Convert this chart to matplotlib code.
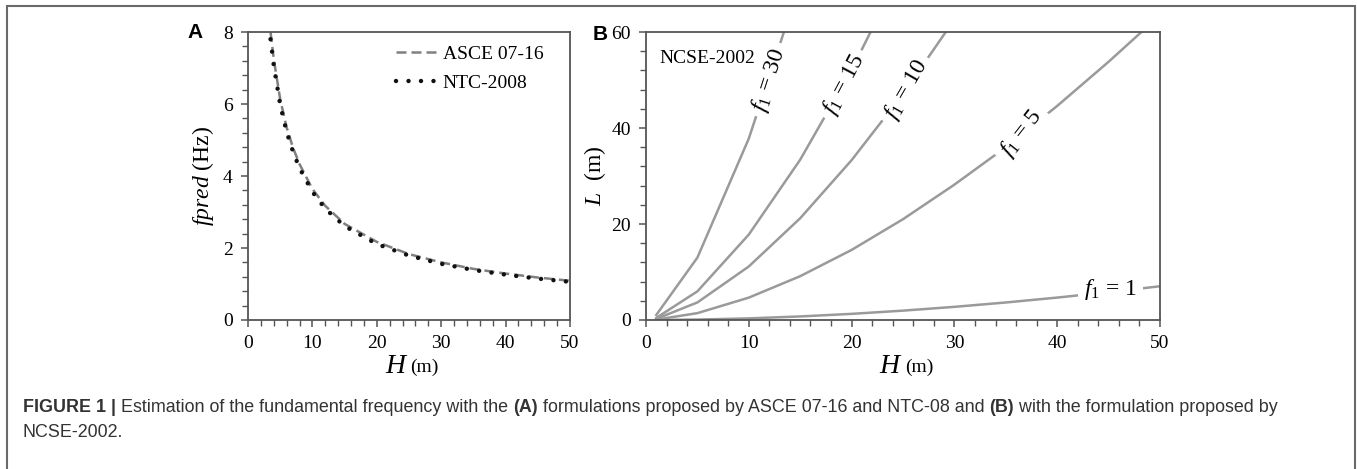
import numpy as np
import matplotlib
matplotlib.use("Agg")
import matplotlib.pyplot as plt
from matplotlib.ticker import MultipleLocator
from matplotlib.patches import Rectangle

plt.rcParams["font.family"] = ["Liberation Serif", "DejaVu Serif"]
plt.rcParams["mathtext.fontset"] = "custom"
plt.rcParams["mathtext.rm"] = "Liberation Serif"
plt.rcParams["mathtext.it"] = "Liberation Serif:italic"

# panel A: predicted frequency vs height
H_a = [3.5, 4, 5, 6, 7, 8, 10, 12, 15, 20, 25, 30, 35, 40, 45, 50]
f_asce = [8.0, 7.25, 6.13, 5.35, 4.78, 4.33, 3.64, 3.17, 2.67, 2.17, 1.83, 1.60, 1.42, 1.29, 1.18, 1.09]
f_ntc = [7.8, 7.07, 5.98, 5.22, 4.67, 4.22, 3.56, 3.09, 2.61, 2.11, 1.79, 1.56, 1.39, 1.26, 1.15, 1.06]

# panel B: NCSE-2002 iso-frequency curves, L vs H
H_b = [1, 5, 10, 15, 20, 25, 30, 35, 40, 45, 50]
L_f1 = [0.0, 0.09, 0.34, 0.74, 1.28, 1.95, 2.74, 3.65, 4.67, 5.80, 7.03]
L_f5 = [0.08, 1.43, 4.66, 9.13, 14.6, 21.0, 28.2, 36.0, 44.6, 53.8, 63.5]
L_f10 = [0.24, 3.66, 11.15, 21.2, 33.3, 47.1, 62.6]
L_f15 = [0.43, 5.97, 17.8, 33.4, 52.1, 73.5]
L_f30 = [1.05, 13.0, 37.8, 70.3]

curves = [L_f1, L_f5, L_f10, L_f15, L_f30]
labels = ["$f_1$ = 1", "$f_1$ = 5", "$f_1$ = 10", "$f_1$ = 15", "$f_1$ = 30"]
label_pos = [(45.2, 6.4), (36.5, 38.8), (25.3, 48.0), (19.3, 49.0), (12.0, 50.0)]
label_rot = [0, 52, 60, 62, 72]

W, Hpx = 1357, 469
fig = plt.figure(figsize=(W / 100, Hpx / 100), dpi=100)

axA = fig.add_axes([248 / W, 1 - 320 / Hpx, 322 / W, 288 / Hpx])
axB = fig.add_axes([646 / W, 1 - 320 / Hpx, 514 / W, 288 / Hpx])

axA.plot(H_a, f_asce, color="#808080", lw=1.8, ls=(0, (4, 2)), label="ASCE 07-16")
axA.plot(H_a, f_ntc, color="#111111", lw=3.2, ls=(0, (0.01, 2.8)),
         dash_capstyle="round", label="NTC-2008")
axA.set_xlim(0, 50)
axA.set_ylim(0, 8)
axA.xaxis.set_major_locator(MultipleLocator(10))
axA.xaxis.set_minor_locator(MultipleLocator(2))
axA.yaxis.set_major_locator(MultipleLocator(2))
axA.yaxis.set_minor_locator(MultipleLocator(0.4))
axA.legend(loc="upper right", bbox_to_anchor=(0.96, 1.0), frameon=False, fontsize=14,
           handlelength=2.3, handletextpad=0.1, borderaxespad=0.3, labelspacing=0.55)
axA.set_ylabel(r"$\mathit{fpred}$ (Hz)", fontsize=17, labelpad=5)

for L, lab, pos, rot in zip(curves, labels, label_pos, label_rot):
    axB.plot(H_b[:len(L)], L, color="#9a9a9a", lw=1.8, zorder=2)
    axB.text(pos[0], pos[1], lab, fontsize=17, rotation=rot, ha="center", va="center",
             rotation_mode="anchor", zorder=3,
             bbox=dict(boxstyle="square,pad=0.25", fc="white", ec="none"))
axB.set_xlim(0, 50)
axB.set_ylim(0, 60)
axB.xaxis.set_major_locator(MultipleLocator(10))
axB.xaxis.set_minor_locator(MultipleLocator(2))
axB.yaxis.set_major_locator(MultipleLocator(20))
axB.yaxis.set_minor_locator(MultipleLocator(4))
axB.text(1.3, 54.5, "NCSE-2002", fontsize=14, va="center", ha="left")
axB.set_ylabel(r"$L$  (m)", fontsize=17, labelpad=2)

for ax in (axA, axB):
    for sp in ax.spines.values():
        sp.set_color("#555555")
        sp.set_linewidth(1.3)
    ax.tick_params(which="major", direction="out", length=5, width=1.1,
                   color="#555555", labelsize=14, pad=6)
    ax.tick_params(which="minor", direction="out", length=4, width=1.0, color="#555555")
    ax.text(0.5, -0.16, "$H$", transform=ax.transAxes, fontsize=20,
            ha="right", va="center")
    ax.text(0.505, -0.165, "(m)", transform=ax.transAxes, fontsize=14,
            ha="left", va="center")

fig.text(195 / W, 1 - 33 / Hpx, "A", fontsize=15, fontweight="bold",
         family="Liberation Sans", ha="center", va="center")
fig.text(600 / W, 1 - 34 / Hpx, "B", fontsize=15, fontweight="bold",
         family="Liberation Sans", ha="center", va="center")

# frame round the figure
fig.add_artist(Rectangle((7 / W, -0.02), 1348 / W, 1.02 - 6 / Hpx, transform=fig.transFigure,
                         fill=False, ec="#6a6a6a", lw=1.5))

# caption with bold parts
renderer = fig.canvas.get_renderer()


def caption_line(x, y, pieces):
    for txt, bold in pieces:
        t = fig.text(x / W, y / Hpx, txt, fontsize=12.9, family="Liberation Sans",
                     fontweight="bold" if bold else "normal", color="#333333",
                     ha="left", va="baseline")
        x += t.get_window_extent(renderer).width


caption_line(23, Hpx - 412, [
    ("FIGURE 1 | ", True),
    ("Estimation of the fundamental frequency with the ", False),
    ("(A)", True),
    (" formulations proposed by ASCE 07-16 and NTC-08 and ", False),
    ("(B)", True),
    (" with the formulation proposed by", False),
])
caption_line(23, Hpx - 437, [("NCSE-2002.", False)])

fig.savefig("out.png", dpi=100)
